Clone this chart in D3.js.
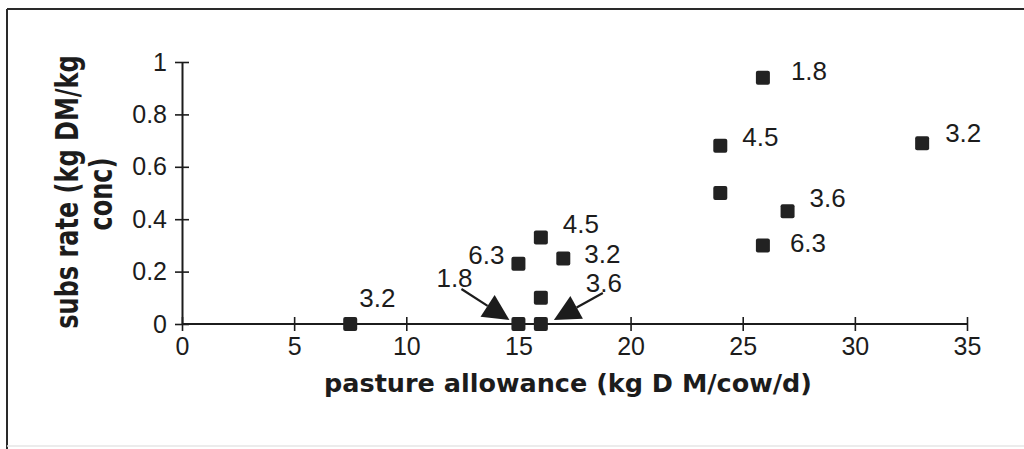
<!DOCTYPE html>
<html>
<head>
<meta charset="utf-8">
<script src="https://cdn.jsdelivr.net/npm/d3@7"></script>
<style>
  html, body { margin: 0; padding: 0; background: #fff; }
  svg { display: block; }
</style>
</head>
<body>
<svg id="chart" width="1024" height="449"></svg>
<script>
// Pasture allowance (kg DM/cow/d) against substitution rate
const allowance = [7.5, 15, 16, 16, 15, 16, 17, 24, 24, 25.9, 27, 25.9, 33];
const subsRate  = [0, 0, 0, 0.1, 0.23, 0.33, 0.25, 0.5, 0.68, 0.94, 0.43, 0.3, 0.69];

// Concentrate labels beside individual points (index into the series above)
const labelPoint = [0, 4, 5, 6, 9, 8, 12, 10, 11];
const labelText  = ["3.2", "6.3", "4.5", "3.2", "1.8", "4.5", "3.2", "3.6", "6.3"];

// Labels joined to their point by an arrow
const arrowPoint = [1, 2];
const arrowText  = ["1.8", "3.6"];

const xTicks = [0, 5, 10, 15, 20, 25, 30, 35];
const yTicks = [0, 0.2, 0.4, 0.6, 0.8, 1];

const xTitle = "pasture allowance (kg D M/cow/d)";
const yTitle = ["subs rate (kg DM/kg", "conc)"];

// ---- layout ----
const svg = d3.select("#chart");
const plot = { left: 182, right: 967, top: 62, bottom: 324 };
const ink = "#1c1c1c";
const numFont = "'Liberation Sans', Arial, sans-serif";
const titleFont = "'DejaVu Sans', Verdana, sans-serif";

const x = d3.scaleLinear().domain([0, 35]).range([plot.left, plot.right]);
const y = d3.scaleLinear().domain([0, 1]).range([plot.bottom, plot.top]);

// outer frame
svg.append("line").attr("x1", 7).attr("y1", 9).attr("x2", 1024).attr("y2", 9)
  .attr("stroke", "#2a2a2a").attr("stroke-width", 2);
svg.append("line").attr("x1", 7).attr("y1", 9).attr("x2", 7).attr("y2", 449)
  .attr("stroke", "#2a2a2a").attr("stroke-width", 2);
svg.append("line").attr("x1", 7).attr("y1", 446).attr("x2", 1024).attr("y2", 446)
  .attr("stroke", "#e6e6e6").attr("stroke-width", 1.5);

// axes with ticks crossing the line
const xAxis = d3.axisBottom(x).tickValues(xTicks).tickSizeInner(14).tickSizeOuter(0)
  .tickPadding(10).tickFormat(d3.format("d"));
const gx = svg.append("g").attr("transform", `translate(0,${plot.bottom})`).call(xAxis);
gx.selectAll(".tick line").attr("y1", -7).attr("y2", 7);
gx.select(".domain").attr("d", `M${plot.left},0H${plot.right}`);

const yAxis = d3.axisLeft(y).tickValues(yTicks).tickSizeInner(14).tickSizeOuter(0)
  .tickPadding(10).tickFormat(d => d === 0 || d === 1 ? d3.format("d")(d) : d3.format(".1f")(d));
const gy = svg.append("g").attr("transform", `translate(${plot.left},0)`).call(yAxis);
gy.selectAll(".tick line").attr("x1", -7).attr("x2", 7);
gy.selectAll(".tick text").attr("x", -15);
gx.selectAll(".tick text").attr("y", 13);

[gx, gy].forEach(g => {
  g.select(".domain").attr("stroke", ink).attr("stroke-width", 2);
  g.selectAll(".tick line").attr("stroke", ink).attr("stroke-width", 1.6);
  g.selectAll(".tick text").attr("fill", ink).attr("font-family", numFont)
    .attr("font-size", 25);
});

// axis titles
svg.append("text")
  .attr("x", 568).attr("y", 392)
  .attr("text-anchor", "middle")
  .attr("font-family", titleFont).attr("font-weight", "bold").attr("font-size", 24)
  .attr("textLength", 488).attr("lengthAdjust", "spacingAndGlyphs")
  .attr("fill", ink)
  .text(xTitle);

// y title: two rotated lines, glyphs stretched a little across the line
const yLineBase = [78, 112];
yTitle.forEach((t, i) => {
  svg.append("g")
    .attr("transform", `translate(${yLineBase[i]},192) rotate(-90) scale(1,1.35)`)
    .append("text")
    .attr("x", i === 0 ? 0 : -2).attr("y", 0)
    .attr("text-anchor", "middle")
    .attr("font-family", titleFont).attr("font-weight", "bold").attr("font-size", 24)
    .attr("fill", ink)
    .text(t);
});

// markers
const pts = allowance.map((a, i) => ({ a, s: subsRate[i] }));
const size = 14;
svg.append("g").selectAll("rect").data(pts).join("rect")
  .attr("x", d => x(d.a) - size / 2)
  .attr("y", d => y(d.s) - size / 2)
  .attr("width", size).attr("height", size)
  .attr("rx", 2).attr("fill", "#222");

// point labels: pixel offsets (dx to text start, dy to baseline)
const labelOffset = [[9, -17], [-14, 0], [22, -5], [21, 4], [28, 2], [22, 0], [23, -1], [22, -4], [27, 7]];
svg.append("g").selectAll("text").data(labelPoint).join("text")
  .attr("x", (p, i) => x(allowance[p]) + labelOffset[i][0])
  .attr("y", (p, i) => y(subsRate[p]) + labelOffset[i][1])
  .attr("text-anchor", (p, i) => labelOffset[i][0] < 0 ? "end" : "start")
  .attr("font-family", numFont).attr("font-size", 26).attr("fill", ink)
  .text((p, i) => labelText[i]);

// arrow labels: text start / baseline, arrow tail and tip, relative to the point
const arrowGeom = [
  { text: [-82, -37], tail: [-57, -35], tip: [-9, -4] },
  { text: [45, -32], tail: [62, -31], tip: [13, -4] }
];
const ag = svg.append("g");
arrowPoint.forEach((p, i) => {
  const cx = x(allowance[p]), cy = y(subsRate[p]);
  const g = arrowGeom[i];
  ag.append("text")
    .attr("x", cx + g.text[0]).attr("y", cy + g.text[1])
    .attr("font-family", numFont).attr("font-size", 26).attr("fill", ink)
    .text(arrowText[i]);
  const tx = cx + g.tail[0], ty = cy + g.tail[1];
  const hx = cx + g.tip[0], hy = cy + g.tip[1];
  const len = Math.hypot(hx - tx, hy - ty);
  const ux = (hx - tx) / len, uy = (hy - ty) / len;
  const headLen = 26, headHalf = 13;
  const bx = hx - ux * headLen, by = hy - uy * headLen;
  ag.append("line").attr("x1", tx).attr("y1", ty).attr("x2", bx).attr("y2", by)
    .attr("stroke", ink).attr("stroke-width", 2.2);
  ag.append("path")
    .attr("d", d3.line()([[hx, hy], [bx - uy * headHalf, by + ux * headHalf], [bx + uy * headHalf, by - ux * headHalf]]) + "Z")
    .attr("fill", ink);
});
</script>
</body>
</html>
